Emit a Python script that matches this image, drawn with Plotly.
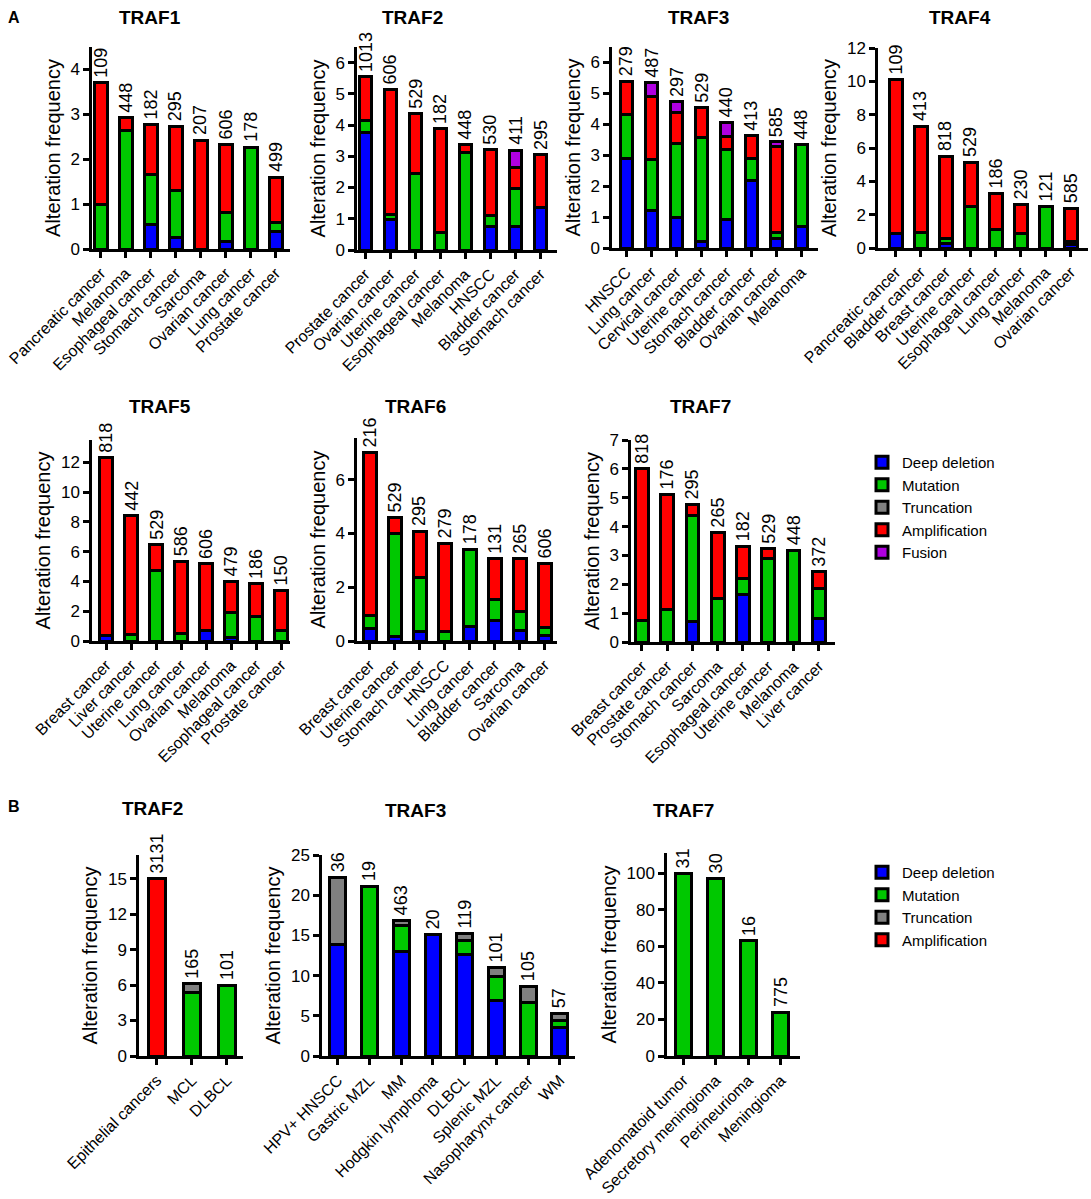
import plotly.graph_objects as go

# ---------------- panel A ----------------
traf1_cats = ['Pancreatic cancer', 'Melanoma', 'Esophageal cancer', 'Stomach cancer',
              'Sarcoma', 'Ovarian cancer', 'Lung cancer', 'Prostate cancer']
traf1_n = [109, 448, 182, 295, 207, 606, 178, 499]
traf1_del = [0, 0, 0.55, 0.25, 0, 0.17, 0, 0.38]
traf1_mut = [1.0, 2.65, 1.1, 1.05, 0, 0.65, 2.27, 0.2]
traf1_amp = [2.7, 0.27, 1.12, 1.43, 2.42, 1.5, 0, 1.02]

traf2_cats = ['Prostate cancer', 'Ovarian cancer', 'Uterine cancer', 'Esophageal cancer',
              'Melanoma', 'HNSCC', 'Bladder cancer', 'Stomach cancer']
traf2_n = [1013, 606, 529, 182, 448, 530, 411, 295]
traf2_del = [3.75, 0.97, 0, 0, 0, 0.75, 0.75, 1.37]
traf2_mut = [0.4, 0.18, 2.45, 0.55, 3.12, 0.35, 1.23, 0]
traf2_amp = [1.4, 4.0, 1.92, 3.33, 0.26, 2.12, 0.65, 1.68]
traf2_fus = [0, 0, 0, 0, 0, 0, 0.57, 0]

traf3_cats = ['HNSCC', 'Lung cancer', 'Cervical cancer', 'Uterine cancer',
              'Stomach cancer', 'Bladder cancer', 'Ovarian cancer', 'Melanoma']
traf3_n = [279, 487, 297, 529, 440, 413, 585, 448]
traf3_del = [2.88, 1.22, 1.0, 0.2, 0.92, 2.17, 0.32, 0.68]
traf3_mut = [1.45, 1.63, 2.38, 3.38, 2.27, 0.73, 0.18, 2.67]
traf3_amp = [1.07, 2.05, 1.0, 0.96, 0.43, 0.74, 2.77, 0]
traf3_fus = [0, 0.45, 0.35, 0, 0.45, 0, 0.16, 0]

traf4_cats = ['Pancreatic cancer', 'Bladder cancer', 'Breast cancer', 'Uterine cancer',
              'Esophageal cancer', 'Lung cancer', 'Melanoma', 'Ovarian cancer']
traf4_n = [109, 413, 818, 529, 186, 230, 121, 585]
traf4_del = [0.9, 0, 0.25, 0, 0, 0, 0, 0.2]
traf4_mut = [0, 0.95, 0.35, 2.48, 1.1, 0.85, 2.48, 0.17]
traf4_amp = [9.2, 6.35, 4.9, 2.66, 2.15, 1.75, 0, 2.0]

traf5_cats = ['Breast cancer', 'Liver cancer', 'Uterine cancer', 'Lung cancer',
              'Ovarian cancer', 'Melanoma', 'Esophageal cancer', 'Prostate cancer']
traf5_n = [818, 442, 529, 586, 606, 479, 186, 150]
traf5_del = [0.38, 0, 0, 0, 0.7, 0.25, 0, 0]
traf5_mut = [0, 0.45, 4.75, 0.52, 0, 1.65, 1.63, 0.72]
traf5_amp = [11.95, 7.97, 1.73, 4.84, 4.48, 2.1, 2.2, 2.68]

traf6_cats = ['Breast cancer', 'Uterine cancer', 'Stomach cancer', 'HNSCC',
              'Lung cancer', 'Bladder cancer', 'Sarcoma', 'Ovarian cancer']
traf6_n = [216, 529, 295, 279, 178, 131, 265, 606]
traf6_del = [0.45, 0.15, 0.35, 0, 0.55, 0.75, 0.38, 0.2]
traf6_mut = [0.5, 3.85, 2.03, 0.35, 2.85, 0.78, 0.72, 0.3]
traf6_amp = [6.05, 0.58, 1.7, 3.27, 0, 1.52, 1.95, 2.37]

traf7_cats = ['Breast cancer', 'Prostate cancer', 'Stomach cancer', 'Sarcoma',
              'Esophageal cancer', 'Uterine cancer', 'Melanoma', 'Liver cancer']
traf7_n = [818, 176, 295, 265, 182, 529, 448, 372]
traf7_del = [0, 0, 0.7, 0, 1.65, 0, 0, 0.8]
traf7_mut = [0.75, 1.12, 3.7, 1.5, 0.55, 2.88, 3.16, 1.05]
traf7_amp = [5.25, 4.0, 0.38, 2.28, 1.12, 0.36, 0, 0.58]

# ---------------- panel B ----------------
b_traf2_cats = ['Epithelial cancers', 'MCL', 'DLBCL']
b_traf2_n = [3131, 165, 101]
b_traf2_mut = [0, 5.35, 6.0]
b_traf2_trunc = [0, 0.75, 0]
b_traf2_amp = [15.0, 0, 0]

b_traf3_cats = ['HPV+ HNSCC', 'Gastric MZL', 'MM', 'Hodgkin lymphoma',
                'DLBCL', 'Splenic MZL', 'Nasopharynx cancer', 'WM']
b_traf3_n = [36, 19, 463, 20, 119, 101, 105, 57]
b_traf3_del = [13.9, 0, 13.05, 15.1, 12.6, 6.95, 0, 3.5]
b_traf3_mut = [0, 21.1, 3.15, 0, 1.75, 3.0, 6.7, 0.9]
b_traf3_trunc = [8.3, 0, 0.7, 0, 0.9, 1.1, 2.0, 0.9]

b_traf7_cats = ['Adenomatoid tumor', 'Secretory meningioma', 'Perineurioma', 'Meningioma']
b_traf7_n = [31, 30, 16, 775]
b_traf7_mut = [100, 97, 63, 24]

ORDER = ['Deep deletion', 'Mutation', 'Truncation', 'Amplification', 'Fusion']
COLORS = {'Deep deletion': '#0000FF', 'Mutation': '#00C800', 'Truncation': '#808080',
          'Amplification': '#FF0000', 'Fusion': '#B000E0'}

W, H = 1091, 1199
FONT = 'Arial, Liberation Sans, sans-serif'

# pixel boxes (x0, x1, ytop, ybottom) for each axis, plus ranges / ticks
panels = [
    dict(title='TRAF1', tx=150, ty=17, cats=traf1_cats, n=traf1_n, legend='legend',
         segs={'Deep deletion': traf1_del, 'Mutation': traf1_mut, 'Amplification': traf1_amp},
         box=(92, 290, 47, 249), xr=[-0.35, 7.57], yr=[0, 4.5], dt=1),
    dict(title='TRAF2', tx=412, ty=17, cats=traf2_cats, n=traf2_n, legend='legend',
         segs={'Deep deletion': traf2_del, 'Mutation': traf2_mut, 'Amplification': traf2_amp,
               'Fusion': traf2_fus},
         box=(357, 557, 47, 250), xr=[-0.33, 7.67], yr=[0, 6.5], dt=1),
    dict(title='TRAF3', tx=698, ty=17, cats=traf3_cats, n=traf3_n, legend='legend',
         segs={'Deep deletion': traf3_del, 'Mutation': traf3_mut, 'Amplification': traf3_amp,
               'Fusion': traf3_fus},
         box=(612, 818, 47, 248), xr=[-0.57, 7.67], yr=[0, 6.5], dt=1),
    dict(title='TRAF4', tx=960, ty=17, cats=traf4_cats, n=traf4_n, legend='legend',
         segs={'Deep deletion': traf4_del, 'Mutation': traf4_mut, 'Amplification': traf4_amp},
         box=(878, 1088, 48, 248), xr=[-0.71, 7.69], yr=[0, 12], dt=2),
    dict(title='TRAF5', tx=160, ty=406, cats=traf5_cats, n=traf5_n, legend='legend',
         segs={'Deep deletion': traf5_del, 'Mutation': traf5_mut, 'Amplification': traf5_amp},
         box=(92, 290, 440, 641), xr=[-0.57, 7.36], yr=[0, 13.5], dt=2),
    dict(title='TRAF6', tx=415, ty=406, cats=traf6_cats, n=traf6_n, legend='legend',
         segs={'Deep deletion': traf6_del, 'Mutation': traf6_mut, 'Amplification': traf6_amp},
         box=(357, 557, 438, 641), xr=[-0.51, 7.49], yr=[0, 7.55], dt=2),
    dict(title='TRAF7', tx=700, ty=406, cats=traf7_cats, n=traf7_n, legend='legend',
         segs={'Deep deletion': traf7_del, 'Mutation': traf7_mut, 'Amplification': traf7_amp},
         box=(631, 835, 440, 642), xr=[-0.43, 7.64], yr=[0, 7], dt=1),
    dict(title='TRAF2', tx=152, ty=808, cats=b_traf2_cats, n=b_traf2_n, legend='legend2',
         segs={'Mutation': b_traf2_mut, 'Truncation': b_traf2_trunc, 'Amplification': b_traf2_amp},
         box=(139, 243, 855, 1056), xr=[-0.51, 2.46], yr=[0, 17], dt=3),
    dict(title='TRAF3', tx=415, ty=810, cats=b_traf3_cats, n=b_traf3_n, legend='legend2',
         segs={'Deep deletion': b_traf3_del, 'Mutation': b_traf3_mut, 'Truncation': b_traf3_trunc},
         box=(322, 575, 855, 1056), xr=[-0.5, 7.48], yr=[0, 25], dt=5),
    dict(title='TRAF7', tx=683, ty=810, cats=b_traf7_cats, n=b_traf7_n, legend='legend2',
         segs={'Mutation': b_traf7_mut},
         box=(667, 800, 853, 1056), xr=[-0.5, 3.59], yr=[0, 111], dt=20),
]

legend_names = {'legend': ORDER, 'legend2': ORDER[:4]}
shown = {'legend': set(), 'legend2': set()}

fig = go.Figure()
annotations = []
layout_axes = {}

for i, p in enumerate(panels, start=1):
    xa = 'x' if i == 1 else 'x%d' % i
    ya = 'y' if i == 1 else 'y%d' % i
    ncat = len(p['cats'])
    totals = [0.0] * ncat
    for name in ORDER:
        vals = p['segs'].get(name)
        need_legend = name in legend_names[p['legend']] and name not in shown[p['legend']]
        if vals is None:
            if not need_legend:
                continue
            vals = [0] * ncat
        totals = [t + v for t, v in zip(totals, vals)]
        fig.add_trace(go.Bar(
            x=p['cats'], y=[v if v else None for v in vals],
            name=name, width=0.5,
            marker=dict(color=COLORS[name], line=dict(color='black', width=3)),
            xaxis=xa, yaxis=ya, legend=p['legend'], legendgroup=name,
            showlegend=need_legend, hoverinfo='x+y+name'))
        if need_legend:
            shown[p['legend']].add(name)

    # sample sizes over each bar
    for c, t, n in zip(p['cats'], totals, p['n']):
        annotations.append(dict(x=c, y=t, xref=xa, yref=ya, text=str(n), showarrow=False,
                                textangle=-90, yanchor='bottom', xanchor='center', yshift=3,
                                font=dict(size=18, color='black', family=FONT)))

    annotations.append(dict(x=p['tx'] / W, y=1 - p['ty'] / H, xref='paper', yref='paper',
                            xanchor='center', yanchor='middle',
                            text='<b>%s</b>' % p['title'], showarrow=False,
                            font=dict(size=19, color='black', family=FONT)))

    x0, x1, yt, yb = p['box']
    key = '' if i == 1 else str(i)
    layout_axes['xaxis' + key] = dict(
        domain=[x0 / W, x1 / W], anchor=ya, range=p['xr'], type='category',
        showline=True, linecolor='black', linewidth=2.5, ticks='outside', ticklen=6,
        tickwidth=2.5, tickcolor='black', tickangle=-45, showgrid=False, automargin=False,
        tickfont=dict(size=16, color='black', family=FONT))
    layout_axes['yaxis' + key] = dict(
        domain=[1 - yb / H, 1 - yt / H], anchor=xa, range=p['yr'], dtick=p['dt'], tick0=0,
        showline=True, linecolor='black', linewidth=2.5, ticks='outside', ticklen=6,
        tickwidth=2.5, tickcolor='black', showgrid=False, zeroline=False, automargin=False,
        tickfont=dict(size=17, color='black', family=FONT),
        title=dict(text='Alteration frequency', standoff=5,
                   font=dict(size=20, color='black', family=FONT)))

# panel letters
annotations.append(dict(x=14 / W, y=1 - 17 / H, xref='paper', yref='paper', text='<b>A</b>',
                        xanchor='center', yanchor='middle',
                        showarrow=False, font=dict(size=16, color='black', family=FONT)))
annotations.append(dict(x=14 / W, y=1 - 806 / H, xref='paper', yref='paper', text='<b>B</b>',
                        xanchor='center', yanchor='middle',
                        showarrow=False, font=dict(size=16, color='black', family=FONT)))

fig.update_layout(
    width=W, height=H, margin=dict(l=0, r=0, t=0, b=0),
    paper_bgcolor='white', plot_bgcolor='white',
    barmode='stack', bargap=0.5,
    font=dict(family=FONT, color='black'),
    annotations=annotations,
    legend=dict(x=862 / W, y=1 - 446 / H, xanchor='left', yanchor='top', traceorder='normal',
                font=dict(size=15, family=FONT, color='black'), bgcolor='rgba(0,0,0,0)'),
    legend2=dict(x=862 / W, y=1 - 856 / H, xanchor='left', yanchor='top', traceorder='normal',
                 font=dict(size=15, family=FONT, color='black'), bgcolor='rgba(0,0,0,0)'),
    **layout_axes,
)

# drop the browser's default body margin so the figure sits at the page corner
fig.write_html('out.html', config={'displayModeBar': False},
               post_script="document.body.style.margin='0';")
